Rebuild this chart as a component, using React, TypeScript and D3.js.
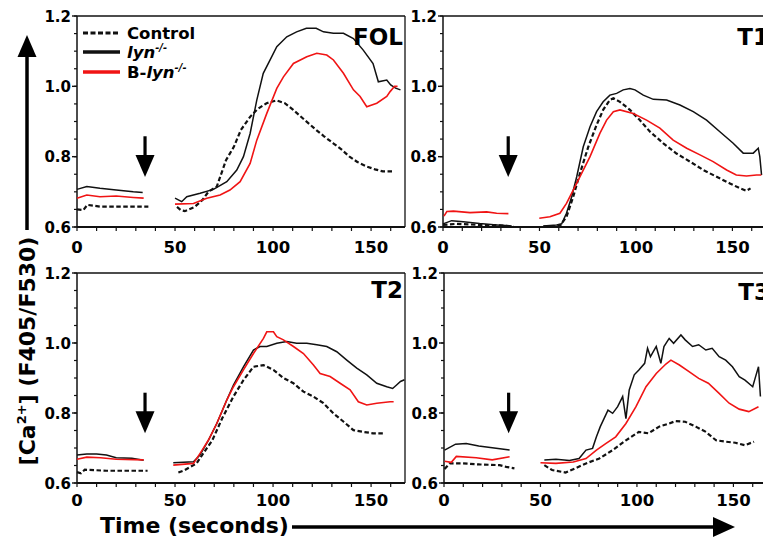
import * as d3 from 'd3'

type Pt = [number, number]
const GAP: Pt = [42, NaN]

// y ticks / x ticks
const yMajor = [0.6, 0.8, 1.0, 1.2]
const yMinor = d3.range(0.6, 1.2001, 0.05)
const xMajor = [0, 50, 100, 150]
const xMinor = d3.range(0, 171, 10)

// ---- FOL ----
const folControl: Pt[] = [
  [0, 0.65], [3.2, 0.648], [5.3, 0.663], [11.7, 0.658], [20, 0.658], [36.4, 0.658], GAP,
  [51, 0.657], [53, 0.648], [55, 0.645], [60, 0.657], [64, 0.677], [67, 0.7], [71.3, 0.715],
  [76, 0.79], [80, 0.828], [83.6, 0.876], [88.4, 0.914], [92, 0.935], [96.7, 0.952], [101.8, 0.96],
  [106, 0.952], [110.3, 0.933], [116, 0.905], [122, 0.876], [126, 0.858], [130.7, 0.838],
  [135, 0.82], [139, 0.8], [143, 0.785], [147.8, 0.772], [152, 0.764], [156, 0.758], [161, 0.758],
]
const folLyn: Pt[] = [
  [0, 0.707], [5, 0.715], [11.7, 0.71], [20, 0.705], [28.7, 0.7], [33.5, 0.698], GAP,
  [50, 0.682], [53.4, 0.672], [56, 0.686], [62.8, 0.696], [69.6, 0.707], [76.4, 0.729],
  [81.5, 0.762], [84.9, 0.8], [88.3, 0.866], [91.7, 0.961], [95, 1.037], [98.5, 1.075],
  [101.9, 1.113], [107, 1.141], [112, 1.155], [117, 1.165], [122, 1.165], [125.7, 1.155],
  [130.8, 1.151], [135.9, 1.151], [141, 1.136], [146, 1.103], [151, 1.065], [153.7, 1.013],
  [158, 1.018], [160, 1.004], [162.5, 0.995], [165, 0.99],
]
const folBLyn: Pt[] = [
  [0, 0.682], [5, 0.691], [11.7, 0.686], [20, 0.688], [28.7, 0.684], [34, 0.682], GAP,
  [50, 0.665], [59.4, 0.667], [66.2, 0.682], [73, 0.691], [78, 0.705], [83.2, 0.729],
  [88.3, 0.781], [91.7, 0.847], [96.8, 0.923], [101.9, 0.994], [105.3, 1.027], [110.4, 1.065],
  [117.2, 1.084], [122.3, 1.094], [127.4, 1.089], [130.8, 1.075], [135.9, 1.037], [141, 0.99],
  [144.4, 0.971], [147.8, 0.942], [152.9, 0.952], [158, 0.971], [159.7, 0.985], [162, 1.0], [163.5, 1.0],
]

// ---- T1 ----
const t1Control: Pt[] = [
  [0, 0.606], [7, 0.609], [19, 0.606], [29.5, 0.605], [36.4, 0.601], GAP,
  [52, 0.601], [60.6, 0.603], [64, 0.629], [67.5, 0.686], [71, 0.753], [75.3, 0.828],
  [79.6, 0.89], [83, 0.933], [86.5, 0.961], [88.3, 0.966], [91.7, 0.956], [96.9, 0.933],
  [102, 0.904], [107.3, 0.871], [114.2, 0.838], [121, 0.809], [128, 0.786], [134.9, 0.762],
  [141.8, 0.743], [148.7, 0.724], [153.9, 0.71], [157.3, 0.703], [159.4, 0.71],
]
const t1Lyn: Pt[] = [
  [0, 0.609], [4.5, 0.618], [10.5, 0.615], [19, 0.61], [27.8, 0.606], [35.6, 0.603], GAP,
  [52, 0.603], [58.9, 0.606], [61.5, 0.609], [64, 0.639], [66.7, 0.686], [69.3, 0.743],
  [72.7, 0.828], [76.2, 0.885], [79.6, 0.928], [83, 0.956], [86.5, 0.975], [90, 0.98],
  [93.4, 0.99], [96.9, 0.994], [99.5, 0.99], [103.8, 0.975], [109, 0.963], [115.9, 0.961],
  [122.8, 0.947], [129.7, 0.928], [136.6, 0.904], [143.5, 0.871], [150.4, 0.838],
  [155.6, 0.81], [160.8, 0.81], [163.4, 0.824], [164.2, 0.8], [165.1, 0.748],
]
const t1BLyn: Pt[] = [
  [0.5, 0.631], [2, 0.644], [5.4, 0.645], [14, 0.641], [22.6, 0.643], [27.8, 0.639], [33.9, 0.638], GAP,
  [49.9, 0.625], [55.4, 0.629], [60.6, 0.639], [64, 0.667], [67.5, 0.705], [71, 0.743],
  [76.2, 0.8], [81.3, 0.866], [84.8, 0.904], [88.3, 0.928], [91.7, 0.933], [98.6, 0.923],
  [105.5, 0.904], [112.4, 0.881], [119.3, 0.847], [126.3, 0.824], [133.2, 0.805], [140, 0.786],
  [147, 0.762], [152, 0.748], [157.3, 0.745], [162.5, 0.748], [165, 0.748],
]

// ---- T2 ----
const t2Control: Pt[] = [
  [0, 0.631], [2, 0.628], [4, 0.638], [15, 0.635], [36, 0.635], GAP,
  [51.7, 0.63], [55, 0.637], [61, 0.656], [63.2, 0.675], [69, 0.722], [74, 0.784],
  [79.8, 0.847], [84.9, 0.894], [90, 0.932], [95.1, 0.937], [100.2, 0.923], [105.3, 0.9],
  [110.4, 0.885], [115.5, 0.861], [120.6, 0.847], [125.7, 0.828], [130.8, 0.799], [136, 0.775],
  [141, 0.751], [146, 0.746], [151, 0.742], [156.4, 0.742],
]
const t2Lyn: Pt[] = [
  [0, 0.68], [5, 0.683], [10, 0.683], [15, 0.68], [20, 0.672], [28, 0.671], [34, 0.665], GAP,
  [49.1, 0.658], [59.4, 0.661], [62.7, 0.68], [67, 0.722], [71.3, 0.77], [76.4, 0.837],
  [79.8, 0.88], [84.9, 0.932], [90, 0.98], [93.4, 0.99], [96.8, 0.99], [101.9, 0.999],
  [107, 1.004], [112, 0.999], [117.2, 0.999], [122.3, 0.995], [127.4, 0.99], [132.5, 0.975],
  [137.6, 0.951], [142.7, 0.928], [147.8, 0.909], [152.9, 0.885], [158, 0.875], [161, 0.87],
  [163, 0.88], [165, 0.89], [167, 0.895],
]
const t2BLyn: Pt[] = [
  [0, 0.668], [5, 0.674], [12, 0.672], [20, 0.668], [34, 0.666], GAP,
  [49.1, 0.651], [59.4, 0.656], [62.7, 0.684], [67, 0.722], [71.3, 0.77], [76.4, 0.837],
  [79.8, 0.875], [84.9, 0.923], [90, 0.97], [95.1, 1.013], [96.8, 1.032], [100.2, 1.032],
  [101.9, 1.018], [105.3, 1.009], [110.4, 0.99], [115.5, 0.97], [120.6, 0.937], [124, 0.913],
  [129.1, 0.904], [134.2, 0.885], [139.3, 0.866], [143.5, 0.832], [147.8, 0.823],
  [152.9, 0.828], [159.7, 0.832], [161.5, 0.832],
]

// ---- T3 ----
const t3Control: Pt[] = [
  [0.3, 0.64], [2.9, 0.656], [9.8, 0.656], [18.4, 0.653], [28.8, 0.651], [32.2, 0.646], [36.5, 0.642], GAP,
  [52, 0.651], [56, 0.637], [63, 0.63], [68, 0.642], [73.6, 0.656], [80.5, 0.67], [87.4, 0.694],
  [94.3, 0.722], [101, 0.746], [106, 0.742], [111.5, 0.761], [116.7, 0.77], [120, 0.777],
  [125, 0.775], [130.5, 0.761], [135.7, 0.746], [141, 0.722], [146, 0.718], [151, 0.715],
  [156, 0.708], [160.7, 0.718],
]
const t3Lyn: Pt[] = [
  [0.3, 0.694], [6, 0.711], [11.5, 0.713], [18, 0.706], [25, 0.701], [34, 0.694], GAP,
  [52, 0.666], [58, 0.668], [65, 0.664], [70, 0.67], [73.6, 0.694], [77, 0.699], [79, 0.732],
  [81, 0.761], [85, 0.808], [87.4, 0.799], [90, 0.818], [92.6, 0.847], [94.3, 0.784], [96, 0.866],
  [98.6, 0.909], [101, 0.923], [104, 0.942], [105.5, 0.985], [107, 0.961], [110, 0.99],
  [112.4, 0.942], [114, 0.99], [116.7, 1.013], [119, 0.999], [122.8, 1.023], [125, 1.009],
  [128.8, 0.99], [132, 0.995], [135.7, 0.98], [139, 0.985], [142.6, 0.961], [146, 0.951],
  [149.5, 0.932], [153, 0.904], [156, 0.894], [160, 0.875], [161.5, 0.904], [163, 0.932], [164, 0.847],
]
const t3BLyn: Pt[] = [
  [0.3, 0.662], [3.8, 0.659], [6.4, 0.676], [16.7, 0.672], [25, 0.666], [34, 0.675], GAP,
  [50, 0.658], [58, 0.656], [67, 0.66], [73.6, 0.67], [79, 0.694], [84, 0.713], [89, 0.732],
  [94.3, 0.77], [99.5, 0.818], [104.7, 0.875], [110, 0.913], [115, 0.94], [117.6, 0.951],
  [122, 0.937], [127, 0.918], [132, 0.899], [137, 0.885], [142.6, 0.856], [147.8, 0.828],
  [153, 0.811], [158, 0.804], [163, 0.818],
]

const panels = [
  { name: 'FOL', left: 77, top: 16, h: 211, xMax: 167.3, arrowT: 34.7, titleDy: 29, labelDy: 26, series: [folControl, folLyn, folBLyn] },
  { name: 'T1', left: 443, top: 16, h: 211, xMax: 170, arrowT: 33.8, titleDy: 29, labelDy: 26, series: [t1Control, t1Lyn, t1BLyn] },
  { name: 'T2', left: 77, top: 273, h: 210, xMax: 167.3, arrowT: 34.7, titleDy: 25, labelDy: 23, series: [t2Control, t2Lyn, t2BLyn] },
  { name: 'T3', left: 444, top: 273, h: 210, xMax: 170, arrowT: 33.5, titleDy: 27, labelDy: 23, series: [t3Control, t3Lyn, t3BLyn] },
]

const W = 328
const RED = '#f01414'
const FONT = '"DejaVu Sans", sans-serif'
const seriesStyle = [
  { stroke: '#111', width: 2.2, dash: '4.5 2.5' },
  { stroke: '#111', width: 1.5, dash: undefined },
  { stroke: RED, width: 1.6, dash: undefined },
]

function Panel({ p }: { p: typeof panels[number] }) {
  const x = d3.scaleLinear().domain([0, p.xMax]).range([p.left, p.left + W])
  const y = d3.scaleLinear().domain([0.6, 1.2]).range([p.top + p.h, p.top])
  const line = d3.line<Pt>()
    .defined(d => !isNaN(d[1]))
    .x(d => x(d[0]))
    .y(d => y(d[1]))
  const bottom = p.top + p.h
  const right = p.left + W
  const ax = x(p.arrowT)
  const tip = y(0.742)

  return (
    <g>
      {/* frame */}
      <line x1={p.left} x2={right} y1={p.top} y2={p.top} stroke="#111" strokeWidth={1.4} />
      <line x1={right} x2={right} y1={p.top} y2={bottom} stroke="#111" strokeWidth={1.3} />
      <line x1={p.left} x2={p.left} y1={p.top} y2={bottom} stroke="#111" strokeWidth={1.5} />

      {/* y ticks */}
      {yMinor.map(v => (
        <line key={'ym' + v} x1={p.left - 3} x2={p.left} y1={y(v)} y2={y(v)} stroke="#111" strokeWidth={1.2} />
      ))}
      {yMajor.map(v => (
        <g key={'y' + v}>
          <line x1={p.left - 5} x2={p.left} y1={y(v)} y2={y(v)} stroke="#111" strokeWidth={1.4} />
          <text x={p.left - 6} y={y(v) + 5.5} textAnchor="end" fontSize={15} fontWeight="bold">
            {v.toFixed(1)}
          </text>
        </g>
      ))}

      {/* x ticks */}
      {xMinor.filter(t => t <= p.xMax).map(t => (
        <line key={'xm' + t} x1={x(t)} x2={x(t)} y1={bottom} y2={bottom + 4} stroke="#111" strokeWidth={1.2} />
      ))}
      {xMajor.map(t => (
        <text key={'x' + t} x={x(t)} y={bottom + p.labelDy} textAnchor="middle" fontSize={16.5} fontWeight="bold">
          {t}
        </text>
      ))}
      <line x1={p.left} x2={right} y1={bottom} y2={bottom} stroke="#111" strokeWidth={2.2} />

      {/* traces */}
      {p.series.map((s, i) => (
        <path key={i} d={line(s) ?? ''} fill="none" stroke={seriesStyle[i].stroke}
          strokeWidth={seriesStyle[i].width} strokeDasharray={seriesStyle[i].dash} />
      ))}

      {/* stimulus arrow */}
      <line x1={ax} x2={ax} y1={y(0.858)} y2={tip - 20} stroke="#000" strokeWidth={3.2} />
      <polygon points={`${ax - 9.5},${tip - 22} ${ax + 9.5},${tip - 22} ${ax},${tip}`} fill="#000" />

      <text x={p.left + 326} y={p.top + p.titleDy} textAnchor="end" fontSize={23} fontWeight="bold">
        {p.name}
      </text>
    </g>
  )
}

export default function App() {
  return (
    <svg width={763} height={542} fontFamily={FONT}
      style={{ position: 'absolute', left: 0, top: 0, background: '#fff' }}>
      {panels.map(p => <Panel key={p.name} p={p} />)}

      {/* legend */}
      <g fontWeight="bold" fontSize={16.5}>
        <line x1={83} x2={120} y1={33} y2={33} stroke="#111" strokeWidth={3} strokeDasharray="5 2.5" />
        <text x={127} y={39}>Control</text>
        <line x1={83} x2={120} y1={52} y2={52} stroke="#111" strokeWidth={3.5} />
        <text x={127} y={58}>
          <tspan fontStyle="italic">lyn</tspan>
          <tspan fontSize={10} dy={-7} fontStyle="italic">-/-</tspan>
        </text>
        <line x1={83} x2={120} y1={72} y2={72} stroke={RED} strokeWidth={3.5} />
        <text x={127} y={78}>
          B-<tspan fontStyle="italic">lyn</tspan>
          <tspan fontSize={10} dy={-7} fontStyle="italic">-/-</tspan>
        </text>
      </g>

      {/* y axis title + arrow */}
      <text transform="translate(35,351) rotate(-90)" textAnchor="middle" fontSize={22} fontWeight="bold">
        [Ca<tspan fontSize={13} dy={-9}>2+</tspan><tspan dy={9}>] (F405/F530)</tspan>
      </text>
      <line x1={27} x2={27} y1={230} y2={55} stroke="#000" strokeWidth={3.5} />
      <polygon points="17.5,57 36.5,57 27,35" fill="#000" />

      {/* x axis title + arrow */}
      <text x={100} y={533} fontSize={22} fontWeight="bold">Time (seconds)</text>
      <line x1={292} x2={715} y1={527} y2={527} stroke="#000" strokeWidth={3.5} />
      <polygon points="713,517 713,537 735,527" fill="#000" />
    </svg>
  )
}
